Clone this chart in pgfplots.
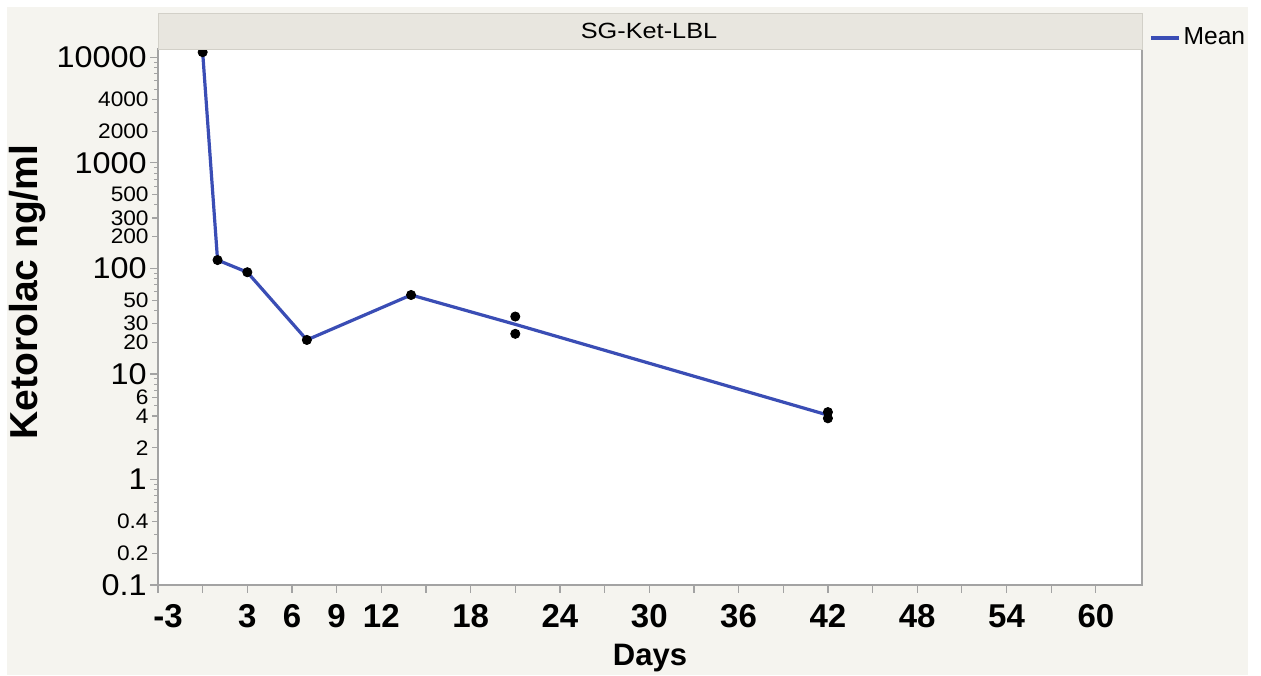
\documentclass[border=0pt]{standalone}
\usepackage{fontspec}
\setmainfont{Liberation Sans}
\newfontfamily\widesans[FakeStretch=1.08]{Liberation Sans}
\newfontfamily\widersans[FakeStretch=1.15]{Liberation Sans}
\usepackage{pgfplots}
\pgfplotsset{compat=1.18}

\definecolor{pagebg}{HTML}{F5F4EF}
\definecolor{stripbg}{HTML}{E8E6DF}
\definecolor{stripedge}{HTML}{D2D0C8}
\definecolor{meanblue}{HTML}{3A4DB5}
\definecolor{axisgray}{HTML}{A3A3A3}

\newcommand\decfont{\widesans\fontsize{15}{16}\selectfont}
\newcommand\subfont{\widesans\fontsize{10.5}{11}\selectfont}
\newcommand\xtfont{\bfseries\fontsize{16.5}{18}\selectfont}
\newcommand\headfont{\widersans\fontsize{11}{13}\selectfont}

\begin{document}
\begin{tikzpicture}
\useasboundingbox (0,0) rectangle (630.5pt,337.5pt);
\fill[pagebg] (3.5pt,0) rectangle (624pt,334pt);
\begin{axis}[
  at={(79pt,45pt)}, anchor=south west,
  width=492pt, height=268pt, scale only axis,
  axis background/.style={fill=white},
  xmin=-3, xmax=63.1,
  ymode=log, ymin=0.1, ymax=12000,
  clip=false,
  axis line style={axisgray, line width=0.75pt},
  tick style={axisgray, line width=0.6pt},
  tick align=outside, tick pos=left,
  major tick length=4pt, minor tick length=2pt,
  xtick={-3,0,...,60},
  xticklabels={\hspace*{10pt}-3,,3,6,9,12,,18,,24,,30,,36,,42,,48,,54,,60},
  xticklabel style={font=\xtfont, inner sep=1pt, yshift=-4.5pt},
  ytick={0.1,1,10,100,1000,10000},
  yticklabels={0.1,1,10,100,1000,10000},
  yticklabel style={font=\decfont, inner sep=1.5pt},
  extra y ticks={0.2,0.4,2,4,6,20,30,50,200,300,500,2000,4000},
  extra y tick labels={0.2,0.4,2,4,6,20,30,50,200,300,500,2000,4000},
  extra y tick style={major tick length=3pt, yticklabel style={font=\subfont}},
  minor ytick={0.3,0.5,0.6,0.7,0.8,0.9,3,5,7,8,9,40,60,70,80,90,
               400,600,700,800,900,3000,5000,6000,7000,8000,9000},
  xlabel={Days},
  xlabel style={font=\bfseries\fontsize{15.5}{17}\selectfont,
                at={(axis description cs:0.5,-0.151)}, anchor=base},
  ylabel={Ketorolac ng/ml},
  ylabel style={font=\bfseries\fontsize{19.5}{22}\selectfont,
                at={(axis description cs:-0.1331,0.5466)}, anchor=center},
  legend style={at={(axis description cs:1.0071,1.0205)}, anchor=west,
                draw=none, fill=none, inner sep=0pt,
                font=\fontsize{12.3}{14}\selectfont,
                nodes={inner sep=1.5pt}},
  legend image code/.code={\draw[#1] (0pt,0pt) -- (14pt,0pt);},
]
% mean concentration per sampling day
\addplot[meanblue, line width=1.6pt] table {
x y
0 11200
1 120
3 92
7 21
14 56
21 29.5
42 4.075
};
\addlegendentry{Mean}
% individual measurements
\addplot[only marks, mark=*, mark size=2.3pt, black, forget plot] table {
x y
0 11200
1 120
3 92
7 21
14 56
21 35
21 24
42 4.35
42 3.8
};
\end{axis}
% group header strip
\draw[stripedge, fill=stripbg, line width=0.4pt] (79pt,313pt) rectangle (571pt,331pt);
\node at (324.5pt,322pt) {\headfont SG-Ket-LBL};
\end{tikzpicture}
\end{document}
